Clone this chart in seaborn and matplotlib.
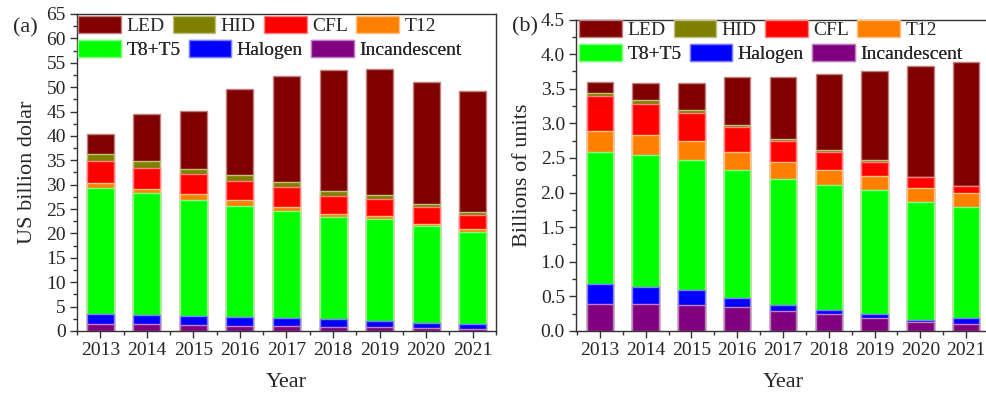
import numpy as np
import pandas as pd
import matplotlib
matplotlib.use("Agg")
import matplotlib.pyplot as plt
from matplotlib.ticker import MultipleLocator, FormatStrFormatter
from matplotlib.patches import Patch
from matplotlib.colors import to_rgb
import seaborn as sns

years = ["2013", "2014", "2015", "2016", "2017", "2018", "2019", "2020", "2021"]

# Stack order, bottom to top
technologies = ["Incandescent", "Halogen", "T8+T5", "T12", "CFL", "HID", "LED"]
colors = {
    "LED": "#800000",
    "HID": "#808000",
    "CFL": "#FF0000",
    "T12": "#FF8000",
    "T8+T5": "#00FF00",
    "Halogen": "#0000FF",
    "Incandescent": "#800080",
}

# (a) market value, US billion dollars
value_incandescent = [1.5, 1.4, 1.2, 1.1, 1.0, 0.9, 0.75, 0.6, 0.5]
value_halogen = [1.9, 1.9, 1.8, 1.8, 1.6, 1.5, 1.35, 1.1, 1.0]
value_t8t5 = [26.0, 25.0, 23.9, 22.8, 22.0, 21.0, 20.9, 19.9, 18.9]
value_t12 = [1.0, 0.9, 1.1, 1.1, 0.9, 0.6, 0.6, 0.4, 0.6]
value_cfl = [4.4, 4.3, 4.1, 4.0, 4.1, 3.7, 3.5, 3.4, 2.8]
value_hid = [1.5, 1.3, 1.2, 1.1, 0.9, 1.0, 0.8, 0.6, 0.6]
value_led = [4.0, 9.6, 11.9, 17.8, 21.8, 24.9, 25.9, 25.0, 24.9]

# (b) shipments, billions of units
units_incandescent = [0.39, 0.39, 0.38, 0.34, 0.29, 0.24, 0.19, 0.135, 0.10]
units_halogen = [0.29, 0.245, 0.21, 0.14, 0.09, 0.07, 0.055, 0.025, 0.09]
units_t8t5 = [1.91, 1.905, 1.88, 1.84, 1.81, 1.80, 1.785, 1.71, 1.60]
units_t12 = [0.30, 0.29, 0.28, 0.27, 0.25, 0.22, 0.21, 0.20, 0.20]
units_cfl = [0.51, 0.45, 0.40, 0.35, 0.30, 0.25, 0.20, 0.15, 0.10]
units_hid = [0.04, 0.05, 0.04, 0.03, 0.03, 0.03, 0.03, 0.01, 0.01]
units_led = [0.15, 0.25, 0.39, 0.70, 0.90, 1.10, 1.29, 1.60, 1.79]

value_series = [value_incandescent, value_halogen, value_t8t5, value_t12,
                value_cfl, value_hid, value_led]
units_series = [units_incandescent, units_halogen, units_t8t5, units_t12,
                units_cfl, units_hid, units_led]

legend_rows = [["LED", "HID", "CFL", "T12"],
               ["T8+T5", "Halogen", "Incandescent"]]

sns.set_theme(style="white")
plt.rcParams["font.family"] = ["Liberation Serif", "DejaVu Serif"]

W, H = 987, 394
fig = plt.figure(figsize=(W / 100, H / 100), dpi=100)
ax_a = fig.add_axes([77 / W, 0.1599, 419 / W, 0.8046])
ax_b = fig.add_axes([576 / W, 0.1599, 414 / W, 0.7906])


def edge_of(c):
    r, g, b = to_rgb(c)
    return (0.5 * r + 0.5, 0.5 * g + 0.5, 0.5 * b + 0.5)


def stacked(ax, series):
    df = pd.DataFrame({t: s for t, s in zip(technologies, series)}, index=years)
    cum = df.cumsum(axis=1)
    # draw tallest cumulative layer first so lower layers sit on top of it
    for tech in reversed(technologies):
        data = pd.DataFrame({"Year": years, "total": cum[tech].values})
        sns.barplot(data=data, x="Year", y="total", order=years, ax=ax,
                    color=colors[tech], saturation=1, width=0.58,
                    edgecolor=edge_of(colors[tech]), linewidth=1.0)


def flow_legend(ax, x_px, top_px, row_step_px):
    # each legend row flows independently, left to right
    for i, row in enumerate(legend_rows):
        handles = [Patch(facecolor=colors[t], edgecolor=edge_of(colors[t]),
                         linewidth=1.0, label=t) for t in row]
        leg = ax.legend(handles=handles, ncol=len(row), loc="upper left",
                        bbox_to_anchor=(x_px / W, 1 - (top_px + i * row_step_px) / H),
                        bbox_transform=fig.transFigure, frameon=False,
                        fontsize=14, handlelength=2.2, handleheight=1.0,
                        handletextpad=0.28, columnspacing=0.42,
                        borderaxespad=0, borderpad=0)
        ax.add_artist(leg)


stacked(ax_a, value_series)
stacked(ax_b, units_series)

for ax in (ax_a, ax_b):
    ax.set_xlim(-0.5, 8.5)
    ax.xaxis.set_minor_locator(MultipleLocator(0.5))
    ax.tick_params(axis="both", which="major", direction="out", length=5,
                   width=1, labelsize=14, color="#333333", pad=3,
                   bottom=True, left=True, top=False, right=False)
    ax.tick_params(axis="both", which="minor", direction="out", length=3,
                   width=1, color="#333333",
                   bottom=True, left=True, top=False, right=False)
    for sp in ax.spines.values():
        sp.set_color("#333333")
        sp.set_linewidth(1.0)
    ax.set_xlabel("Year", fontsize=16, labelpad=10)
    ax.grid(False)

ax_b.set_xlim(-0.52, 8.52)

ax_a.set_ylim(0, 65)
ax_a.yaxis.set_major_locator(MultipleLocator(5))
ax_a.yaxis.set_minor_locator(MultipleLocator(2.5))
ax_a.set_ylabel("US billion dolar", fontsize=16, labelpad=7)

ax_b.set_ylim(0, 4.5)
ax_b.yaxis.set_major_locator(MultipleLocator(0.5))
ax_b.yaxis.set_minor_locator(MultipleLocator(0.25))
ax_b.yaxis.set_major_formatter(FormatStrFormatter("%.1f"))
ax_b.set_ylabel("Billions of units", fontsize=16, labelpad=6)

flow_legend(ax_a, 78, 16, 23.5)
flow_legend(ax_b, 579, 20, 24)

fig.text(13 / W, 1 - 28 / H, "(a)", fontsize=16, va="center", ha="left")
fig.text(512 / W, 1 - 27 / H, "(b)", fontsize=16, va="center", ha="left")

fig.savefig("out.png", dpi=100)
